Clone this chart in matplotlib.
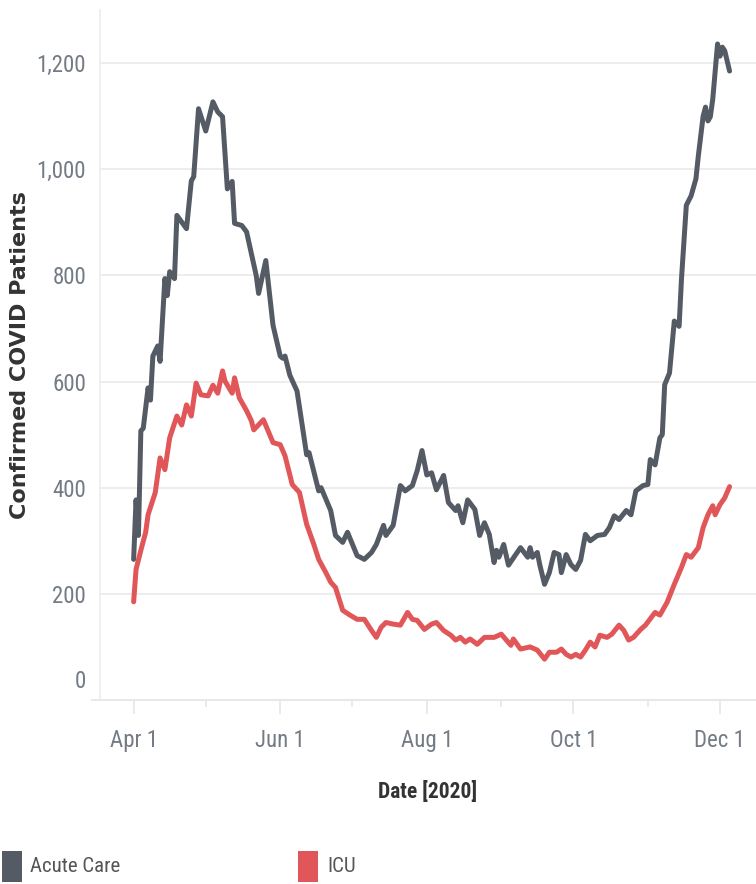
import numpy as np
import matplotlib
matplotlib.use("Agg")
import matplotlib.pyplot as plt
from matplotlib import font_manager
from matplotlib.transforms import ScaledTranslation
import matplotlib.dates as mdates
from matplotlib.patches import Rectangle

# ---------------- data (days after 2020-04-01) -------------
acute_days = [0, 1, 2, 3, 4, 6, 7, 8, 10, 11, 13, 14, 15, 17, 18, 22, 24, 25, 27, 30,
              33, 35, 37, 39, 41, 42, 45, 47, 51, 52, 55, 58, 61, 62, 63, 65, 68, 72, 73, 77,
              78, 82, 84, 87, 89, 93, 96, 99, 101, 104, 105, 108, 111, 113, 116, 118, 120, 122, 124, 126,
              129, 131, 134, 135, 137, 139, 142, 144, 146, 148, 150, 151, 152, 154, 156, 159, 161, 164, 165, 166,
              168, 169, 171, 173, 175, 177, 178, 180, 182, 184, 186, 188, 190, 193, 196, 198, 200, 202, 205, 207,
              209, 212, 214, 215, 217, 219, 220, 221, 223, 225, 227, 228, 230, 232, 234, 235, 237, 238, 239, 240,
              241, 243, 244, 245, 246, 248]
acute_vals = [265, 377, 310, 507, 512, 588, 565, 648, 667, 638, 794, 762, 807, 794, 913, 888, 978, 986, 1114, 1072,
              1127, 1108, 1099, 963, 977, 898, 894, 882, 800, 766, 828, 706, 648, 644, 648, 612, 582, 462, 466, 394,
              400, 357, 310, 297, 316, 272, 265, 278, 293, 329, 310, 329, 404, 394, 404, 432, 470, 424, 428, 396,
              423, 372, 357, 366, 334, 377, 359, 310, 334, 312, 259, 282, 269, 293, 254, 274, 287, 269, 287, 269,
              278, 255, 218, 240, 278, 274, 240, 274, 255, 246, 263, 312, 300, 310, 312, 325, 347, 340, 357, 349,
              394, 404, 406, 453, 443, 494, 500, 594, 616, 714, 704, 794, 932, 950, 982, 1025, 1100, 1117, 1091, 1099,
              1132, 1236, 1213, 1230, 1223, 1185]

icu_days = [0, 1, 3, 5, 6, 9, 11, 13, 15, 18, 20, 22, 24, 26, 28, 31, 33, 35, 37, 38,
            41, 42, 44, 47, 49, 50, 54, 58, 61, 63, 66, 69, 72, 75, 77, 80, 82, 84, 87, 90,
            93, 96, 99, 101, 103, 105, 108, 111, 114, 116, 118, 121, 124, 126, 129, 132, 134, 136, 138, 140,
            143, 146, 150, 153, 157, 158, 161, 165, 168, 171, 173, 176, 178, 180, 182, 184, 186, 188, 190, 192,
            194, 197, 199, 202, 204, 206, 208, 211, 213, 217, 219, 222, 225, 228, 230, 232, 235, 237, 239, 241,
            242, 244, 246, 248]
icu_vals = [185, 246, 282, 316, 349, 391, 456, 434, 494, 535, 518, 556, 535, 597, 575, 573, 593, 578, 620, 601,
            578, 607, 569, 545, 526, 509, 528, 485, 481, 460, 406, 391, 331, 293, 265, 240, 222, 212, 169, 160,
            152, 152, 131, 118, 137, 146, 143, 141, 165, 152, 150, 133, 143, 146, 131, 122, 113, 118, 109, 115,
            105, 118, 118, 124, 103, 115, 96, 100, 94, 77, 90, 90, 96, 86, 81, 86, 81, 94, 109, 100,
            122, 118, 124, 141, 131, 113, 118, 133, 141, 165, 160, 184, 218, 250, 274, 269, 287, 325, 349, 366,
            349, 368, 381, 402]

series_names = ["Acute Care", "ICU"]
series_colors = ["#555b65", "#e15759"]
ytick_vals = [0, 200, 400, 600, 800, 1000, 1200]
ytick_labels = ["0", "200", "400", "600", "800", "1,000", "1,200"]
xtick_dates = ["2020-04-01", "2020-06-01", "2020-08-01", "2020-10-01", "2020-12-01"]
xtick_labels = ["Apr 1", "Jun 1", "Aug 1", "Oct 1", "Dec 1"]
xminor_dates = ["2020-05-01", "2020-07-01", "2020-09-01", "2020-11-01"]

# ---------------- fonts ----------------
available = {f.name for f in font_manager.fontManager.ttflist}
narrow = "DejaVu Sans"
for cand in ["Liberation Sans Narrow", "Roboto Condensed", "Open Sans Condensed", "Noto Sans", "Lato"]:
    if cand in available:
        narrow = cand
        break

start = np.datetime64("2020-04-01")
acute_x = start + np.array(acute_days).astype("timedelta64[D]")
icu_x = start + np.array(icu_days).astype("timedelta64[D]")

W, H = 756, 884
fig = plt.figure(figsize=(W / 100, H / 100), dpi=100)
ax = fig.add_axes([100 / W, 1 - 700 / H, 656 / W, 690 / H])

ax.plot(acute_x, acute_vals, color=series_colors[0], lw=3.6, solid_joinstyle="round",
        solid_capstyle="round", zorder=3)
ax.plot(icu_x, icu_vals, color=series_colors[1], lw=3.6, solid_joinstyle="round",
        solid_capstyle="round", zorder=3)

ax.set_ylim(0, 1300)
ax.set_xlim(start - np.timedelta64(14, "D"), start + np.timedelta64(259, "D"))

# grid
for v in ytick_vals[1:]:
    ax.axhline(v, color="#ececec", lw=1.3, zorder=1)

ax.set_yticks(ytick_vals)
ax.set_yticklabels(ytick_labels, fontsize=16.5, color="#737b85", family=[narrow, "DejaVu Sans"])
ax.tick_params(axis="y", length=0, pad=10)
lab0 = ax.get_yticklabels()[0]
lab0.set_transform(lab0.get_transform() + ScaledTranslation(0, 0.21, fig.dpi_scale_trans))

xt = [np.datetime64(d) for d in xtick_dates]
ax.set_xticks(mdates.date2num(xt))
ax.set_xticklabels(xtick_labels, fontsize=16.5, color="#737b85", family=[narrow, "DejaVu Sans"])
ax.set_xticks(mdates.date2num([np.datetime64(d) for d in xminor_dates]), minor=True)
ax.tick_params(axis="x", which="major", length=10, width=1.2, color="#e6e6e6", pad=11)
ax.tick_params(axis="x", which="minor", length=5, width=1.2, color="#e6e6e6")

for s in ["top", "right"]:
    ax.spines[s].set_visible(False)
ax.spines["left"].set_color("#eeeeee")
ax.spines["left"].set_linewidth(1.3)
ax.spines["bottom"].set_color("#e6e6e6")
ax.spines["bottom"].set_linewidth(1.3)
ax.plot([-0.012, 0], [0, 0], transform=ax.transAxes, color="#e6e6e6", lw=1.3, clip_on=False)

ax.set_ylabel("Confirmed COVID Patients", fontsize=16, fontweight="bold", color="#333333",
              family="DejaVu Sans")
ax.yaxis.set_label_coords(-(100 - 30) / 656, 0.5)
ax.set_xlabel("Date [2020]", fontsize=15.5, fontweight="bold", color="#333333",
              family=[narrow, "DejaVu Sans"])
ax.xaxis.set_label_coords(0.5, -(781 - 700) / 690)

# legend (manual, Tableau-style)
fig.patches.append(Rectangle((2 / W, 1 - 882 / H), 20 / W, 31 / H, transform=fig.transFigure,
                             facecolor=series_colors[0], edgecolor="none"))
fig.text(30 / W, 1 - 867 / H, series_names[0], fontsize=15, color="#555555",
         family=[narrow, "DejaVu Sans"], va="center", ha="left")
fig.patches.append(Rectangle((298 / W, 1 - 882 / H), 20 / W, 31 / H, transform=fig.transFigure,
                             facecolor=series_colors[1], edgecolor="none"))
fig.text(327 / W, 1 - 867 / H, series_names[1], fontsize=15, color="#555555",
         family=[narrow, "DejaVu Sans"], va="center", ha="left")

fig.savefig("out.png", dpi=100)
